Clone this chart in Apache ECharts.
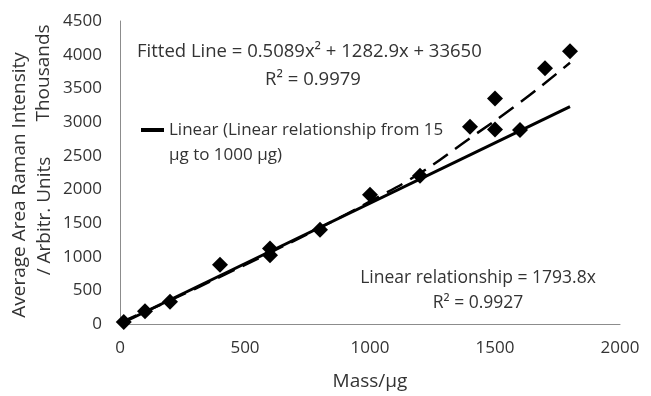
<!DOCTYPE html>
<html><head><meta charset="utf-8">
<script src="https://cdn.jsdelivr.net/npm/echarts@6/dist/echarts.min.js"></script>
<style>html,body{margin:0;padding:0;background:#fff}#c{width:651px;height:396px}</style>
</head><body><div id="c"></div>
<script>
var massX = [15, 100, 200, 400, 600, 600, 800, 1000, 1200, 1400, 1500, 1500, 1600, 1700, 1800];
var intensityY = [30, 190, 330, 880, 1020, 1120, 1400, 1920, 2200, 2930, 3350, 2890, 2880, 3800, 4050];
var linearX = [0, 1800];
var linearY = [0, 3229];
var fitX = [0, 200, 400, 600, 800, 1000, 1200, 1400, 1600, 1800];
var fitY = [20, 350, 700, 1060, 1430, 1820, 2240, 2760, 3290, 3880];
var xTicks = [0, 500, 1000, 1500, 2000];
var yTicks = [0, 500, 1000, 1500, 2000, 2500, 3000, 3500, 4000, 4500];

var F = '"Open Sans", sans-serif';
var C = '#333';
var chart = echarts.init(document.getElementById('c'));
function pairs(a, b){ return a.map(function(v,i){ return [v, b[i]]; }); }
chart.setOption({
  animation: false,
  textStyle: {fontFamily: F},
  grid: {left: 120, right: 31, top: 21, bottom: 68},
  xAxis: {type: 'value', min: xTicks[0], max: xTicks[xTicks.length-1], interval: 500,
    axisLine: {lineStyle: {color: '#8c8c8c', width: 1}}, axisTick: {show: false},
    splitLine: {show: false},
    axisLabel: {color: C, fontSize: 17, fontFamily: F, margin: 16, formatter: function(v){ return String(v); }},
    name: 'Mass/µg', nameLocation: 'middle', nameGap: 48,
    nameTextStyle: {color: C, fontSize: 19, fontFamily: F}},
  yAxis: {type: 'value', min: yTicks[0], max: yTicks[yTicks.length-1], interval: 500,
    axisLine: {show: true, lineStyle: {color: '#8c8c8c', width: 1}}, axisTick: {show: false},
    splitLine: {show: false},
    axisLabel: {color: C, fontSize: 17, fontFamily: F, margin: 18, formatter: function(v){ return String(v); }}},
  legend: {left: 141, top: 120, padding: 0, itemWidth: 23, itemHeight: 4, itemGap: 0,
    icon: 'rect', data: ['lin'],
    formatter: function(){ return 'Linear (Linear relationship from 15'; },
    textStyle: {color: C, fontSize: 17, fontFamily: F, lineHeight: 20}},
  series: [
    {name: 'lin', type: 'line', data: pairs(linearX, linearY), showSymbol: false,
      lineStyle: {color: '#000', width: 3}, itemStyle: {color: '#000'}, z: 2},
    {name: 'fit', type: 'line', data: pairs(fitX, fitY), showSymbol: false, smooth: true,
      lineStyle: {color: '#000', width: 2.5, type: [18, 9]}, z: 2},
    {name: 'pts', type: 'scatter', data: pairs(massX, intensityY), symbol: 'diamond',
      symbolSize: [16, 16], itemStyle: {color: '#000', opacity: 1}, z: 3}
  ],
  graphic: [
    {type: 'text', x: 169, y: 155, style: {text: 'µg to 1000 µg)', fill: C, font: '17px ' + F, verticalAlign: 'middle'}},
    {type: 'text', x: 137, y: 52, style: {text: 'Fitted Line = 0.5089x² + 1282.9x + 33650', fill: C, font: '18.5px ' + F, verticalAlign: 'middle'}},
    {type: 'text', x: 313, y: 80, style: {text: 'R² = 0.9979', fill: C, font: '18.5px ' + F, align: 'center', verticalAlign: 'middle'}},
    {type: 'text', x: 478, y: 278, style: {text: 'Linear relationship = 1793.8x', fill: C, font: '17.5px ' + F, align: 'center', verticalAlign: 'middle'}},
    {type: 'text', x: 478, y: 303, style: {text: 'R² = 0.9927', fill: C, font: '17.5px ' + F, align: 'center', verticalAlign: 'middle'}},
    {type: 'text', x: 20, y: 185, rotation: Math.PI/2, style: {text: 'Average Area Raman Intensity', fill: C, font: '19px ' + F, align: 'center', verticalAlign: 'middle'}},
    {type: 'text', x: 45, y: 216, rotation: Math.PI/2, style: {text: '/ Arbitr. Units', fill: C, font: '19px ' + F, align: 'center', verticalAlign: 'middle'}},
    {type: 'text', x: 44, y: 73, rotation: Math.PI/2, style: {text: 'Thousands', fill: C, font: '19px ' + F, align: 'center', verticalAlign: 'middle'}}
  ]
});
</script></body></html>
